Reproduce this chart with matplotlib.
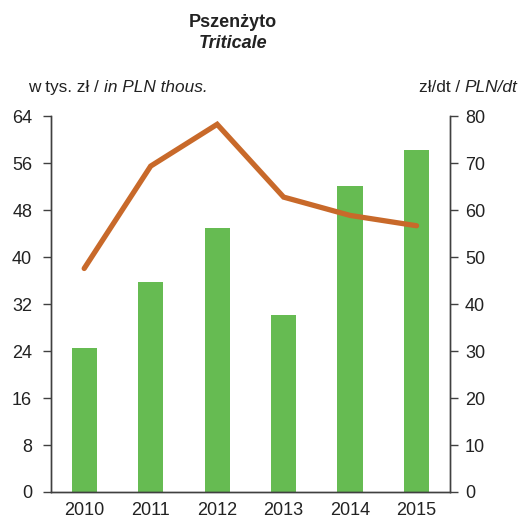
import matplotlib
matplotlib.use("Agg")
import matplotlib.pyplot as plt

plt.rcParams['font.family'] = ['Liberation Sans', 'DejaVu Sans']

years = ['2010', '2011', '2012', '2013', '2014', '2015']
value_thous = [24.6, 35.8, 45.0, 30.1, 52.1, 58.3]
price_per_dt = [47.6, 69.4, 78.3, 62.8, 58.9, 56.7]

green = '#66bb52'
orange = '#c8692a'
axis_col = '#404040'
text_col = '#222222'

fig = plt.figure(figsize=(5.2, 5.21), dpi=100)
ax = fig.add_axes([0.098, 0.0557, 0.767, 0.721])
ax2 = ax.twinx()

x = list(range(len(years)))
ax.bar(x, value_thous, width=0.38, color=green, zorder=2)
ax2.plot(x, price_per_dt, color=orange, linewidth=3.8, solid_capstyle='round',
         solid_joinstyle='miter', zorder=3)

ax.set_xlim(-0.5, 5.5)
ax.set_ylim(0, 64)
ax2.set_ylim(0, 80)
ax.set_yticks(range(0, 65, 8))
ax2.set_yticks(range(0, 81, 10))
ax.set_xticks(x)
ax.set_xticklabels(years)

for a in (ax, ax2):
    a.spines['top'].set_visible(False)
    for s in ('left', 'right', 'bottom'):
        a.spines[s].set_color(axis_col)
        a.spines[s].set_linewidth(1.0)
    a.tick_params(axis='y', direction='out', length=5.5, width=1, color=axis_col,
                  labelsize=13, labelcolor=text_col)
ax.tick_params(axis='x', length=0, labelsize=13, labelcolor=text_col, pad=7.5)
ax.tick_params(axis='y', pad=8)
ax2.tick_params(axis='y', pad=5.5)

fig.text(0.448, 0.956, 'Pszenżyto', ha='center', va='center', fontsize=13,
         fontweight='bold', color=text_col)
fig.text(0.448, 0.916, 'Triticale', ha='center', va='center', fontsize=13,
         fontweight='bold', style='italic', color=text_col)

# unit labels: plain + italic parts
fig.canvas.draw()
r = fig.canvas.get_renderer()
t1 = fig.text(0.054, 0.833, 'w tys. zł / ', ha='left', va='center', fontsize=12.4,
              color=text_col)
bb = t1.get_window_extent(r)
fig.text(bb.x1 / fig.bbox.width, 0.833, 'in PLN thous.', ha='left', va='center',
         fontsize=12.4, style='italic', color=text_col)

t2 = fig.text(0.995, 0.833, 'PLN/dt', ha='right', va='center', fontsize=12.4,
              style='italic', color=text_col)
bb2 = t2.get_window_extent(r)
fig.text(bb2.x0 / fig.bbox.width, 0.833, 'zł/dt / ', ha='right', va='center',
         fontsize=12.4, color=text_col)

fig.savefig('out.png', dpi=100)
